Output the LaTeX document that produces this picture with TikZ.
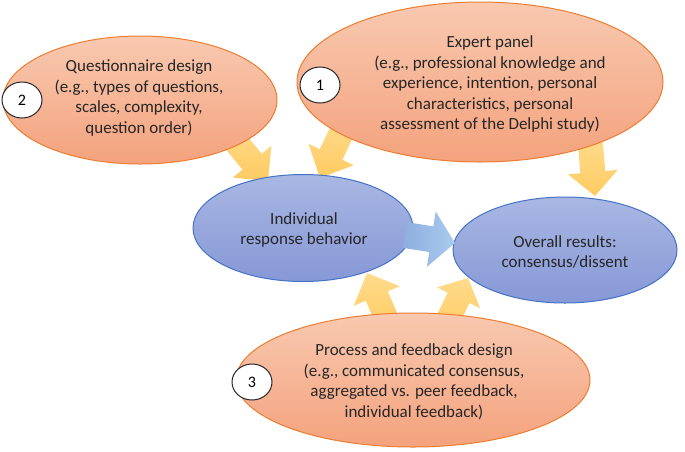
\documentclass[tikz,border=0pt]{standalone}
\usepackage{fontspec}
\setmainfont{Carlito}
\usetikzlibrary{shapes.geometric,calc}
\definecolor{orangeborder}{HTML}{ED7D31}
\definecolor{orangetop}{HTML}{F8C9B0}
\definecolor{orangebot}{HTML}{F4A27D}
\definecolor{blueborder}{HTML}{4472C4}
\definecolor{bluetop}{HTML}{A9B7E3}
\definecolor{bluebot}{HTML}{8698D6}
\definecolor{yeltop}{HTML}{FFDB8C}
\definecolor{yelbot}{HTML}{FFCB62}
\definecolor{barrowA}{HTML}{8EAEE0}
\definecolor{barrowB}{HTML}{A8CBEE}
\definecolor{txt}{HTML}{262626}
\newcommand\blockarrow[6]{%
  \coordinate (nck) at ($(#3)!#6!(#2)$);
  \path[#1] ($(#2)!#4!90:(#3)$) -- ($(nck)!#4!90:(#3)$) -- ($(nck)!#5!90:(#3)$)
    -- (#3) -- ($(nck)!#5!-90:(#3)$) -- ($(nck)!#4!-90:(#3)$)
    -- ($(#2)!#4!-90:(#3)$) -- cycle;
}
\begin{document}
\begin{tikzpicture}[x=1pt,y=-1pt,
  orangeell/.style={ellipse, draw=orangeborder, line width=1pt, top color=orangetop, bottom color=orangebot, inner sep=0pt},
  blueell/.style={ellipse, draw=blueborder, line width=1pt, top color=bluetop, bottom color=bluebot, inner sep=0pt},
  label/.style={align=center, text=txt, font=\fontsize{17}{20.5}\selectfont, inner sep=0pt},
  numcirc/.style={ellipse, draw=black!85, line width=1pt, fill=white, minimum width=40pt, minimum height=36pt, inner sep=0pt, font=\fontsize{16}{18}\selectfont},
  yarrow/.style={top color=yeltop, bottom color=yelbot},
  barrow/.style={left color=barrowA, right color=barrowB}
]
\useasboundingbox (0,0) rectangle (685,451);
% arrow end points
\coordinate (aT) at (226,130); \coordinate (aH) at (268,181);
\coordinate (bT) at (346,123); \coordinate (bH) at (320,178);
\coordinate (cT) at (590,140); \coordinate (cH) at (595,196);
\coordinate (dT) at (405,235); \coordinate (dH) at (455,243);
\coordinate (eT) at (390,327); \coordinate (eH) at (367,273);
\coordinate (fT) at (444,328); \coordinate (fH) at (468,278);
\blockarrow{yarrow}{aT}{aH}{12.5pt}{25pt}{25pt}
\blockarrow{yarrow}{bT}{bH}{12.5pt}{25pt}{26pt}
\blockarrow{yarrow}{cT}{cH}{12.5pt}{25pt}{24pt}
\blockarrow{yarrow}{eT}{eH}{12pt}{25pt}{25pt}
\blockarrow{yarrow}{fT}{fH}{12pt}{24pt}{22pt}
% ellipses
\node[orangeell, minimum width=274pt, minimum height=128pt] (q) at (140,100) {};
\node[orangeell, minimum width=366pt, minimum height=160pt] (e) at (480,82) {};
\node[blueell, minimum width=220pt, minimum height=107pt] (ind) at (303,228) {};
\node[blueell, minimum width=224pt, minimum height=106pt] (ovr) at (565,250) {};
\node[orangeell, minimum width=354pt, minimum height=134pt] (p) at (413,380) {};
\blockarrow{barrow}{dT}{dH}{13pt}{28pt}{24pt}
% texts
\node[label] (qt) at (139,98) {Questionnaire design\\(e.g., types of questions,\\scales, complexity,\\question order)};
\node[label] (et) at (490,84) {Expert panel\\(e.g., professional knowledge and\\experience, intention, personal\\characteristics, personal\\assessment of the Delphi study)};
\node[label] (indt) at (304,230) {Individual\\response behavior};
\node[label] (ovrt) at (565,252) {Overall results:\\consensus/dissent};
\node[label] (pt) at (414,382) {Process and feedback design\\(e.g., communicated consensus,\\aggregated vs. peer feedback,\\individual feedback)};
% number circles
\node[numcirc] (n1) at (320,85) {1};
\node[numcirc] (n2) at (22,100) {2};
\node[numcirc] (n3) at (252,382) {3};
\end{tikzpicture}
\end{document}
